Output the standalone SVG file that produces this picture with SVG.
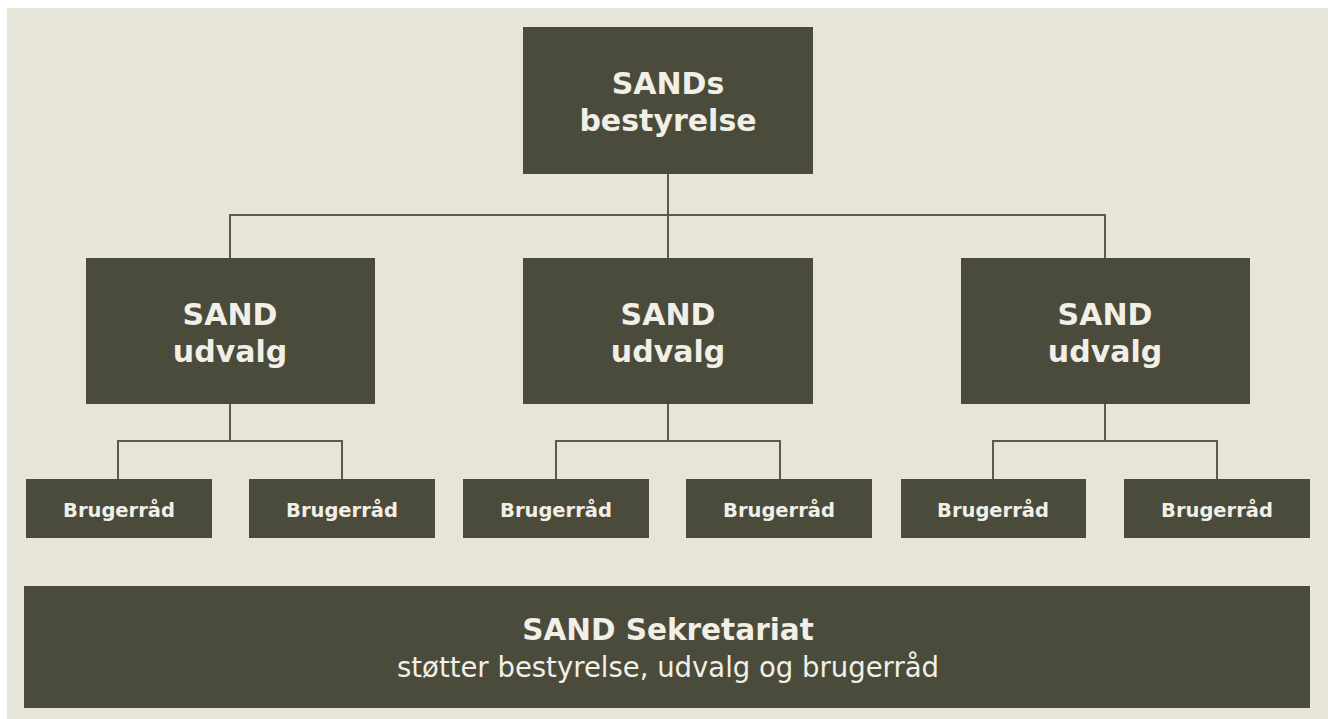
<svg xmlns="http://www.w3.org/2000/svg" width="1328" height="719" viewBox="0 0 1328 719">
<style>
.box{fill:#4a4b3a;}
.t{fill:#f1efe7;font-family:"DejaVu Sans",Inter,sans-serif;font-weight:700;text-anchor:middle;}
.big{font-size:30px;}
.small{font-size:19.5px;}
.sub{font-size:27.5px;font-weight:400;}
.c{fill:none;stroke:#5b5b4d;stroke-width:2;}
</style>
<rect x="0" y="0" width="1328" height="719" fill="#ffffff"/>
<rect x="7" y="8" width="1321" height="711" fill="#e7e4d9"/>
<g id="connectors">
<path class="c" d="M668 174 V258 M230 258 V215 H1105 V258"/>
<path class="c" d="M230 404 V441 M118 479 V441 H342 V479"/>
<path class="c" d="M668 404 V441 M556 479 V441 H780 V479"/>
<path class="c" d="M1105 404 V441 M993 479 V441 H1217 V479"/>
</g>
<g id="board"><rect class="box" x="523" y="27" width="290" height="147"/><text class="t big" x="668" y="94">SANDs</text><text class="t big" x="668" y="131">bestyrelse</text></g>
<g id="udvalg1"><rect class="box" x="86" y="258" width="289" height="146"/><text class="t big" x="230" y="325">SAND</text><text class="t big" x="230" y="362">udvalg</text></g>
<g id="udvalg2"><rect class="box" x="523" y="258" width="290" height="146"/><text class="t big" x="668" y="325">SAND</text><text class="t big" x="668" y="362">udvalg</text></g>
<g id="udvalg3"><rect class="box" x="961" y="258" width="289" height="146"/><text class="t big" x="1105" y="325">SAND</text><text class="t big" x="1105" y="362">udvalg</text></g>
<g id="br1"><rect class="box" x="26" y="479" width="186" height="59"/><text class="t small" x="119" y="517">Brugerråd</text></g>
<g id="br2"><rect class="box" x="249" y="479" width="186" height="59"/><text class="t small" x="342" y="517">Brugerråd</text></g>
<g id="br3"><rect class="box" x="463" y="479" width="186" height="59"/><text class="t small" x="556" y="517">Brugerråd</text></g>
<g id="br4"><rect class="box" x="686" y="479" width="186" height="59"/><text class="t small" x="779" y="517">Brugerråd</text></g>
<g id="br5"><rect class="box" x="901" y="479" width="185" height="59"/><text class="t small" x="993" y="517">Brugerråd</text></g>
<g id="br6"><rect class="box" x="1124" y="479" width="186" height="59"/><text class="t small" x="1217" y="517">Brugerråd</text></g>
<g id="sekretariat"><rect class="box" x="24" y="586" width="1286" height="122"/><text class="t" style="font-size:29.5px" x="668" y="640">SAND Sekretariat</text><text class="t sub" x="668" y="677">støtter bestyrelse, udvalg og brugerråd</text></g>
</svg>
